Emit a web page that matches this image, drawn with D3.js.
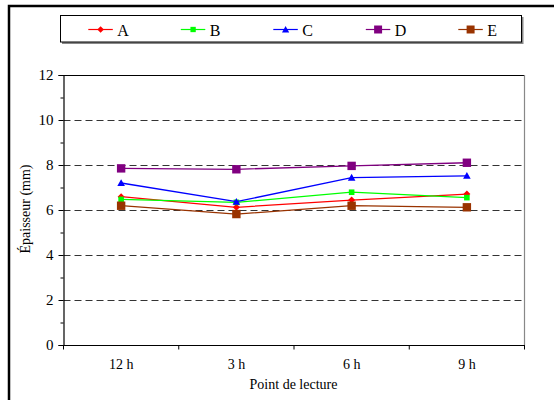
<!DOCTYPE html>
<html><head><meta charset="utf-8">
<script src="https://cdn.jsdelivr.net/npm/d3@7"></script>
<style>html,body{margin:0;padding:0;background:#fff;}svg{display:block;}
svg text{font-family:"Liberation Serif","Times New Roman",Tinos,"DejaVu Serif",serif;}</style>
</head><body>
<script>
const categories = ["12 h", "3 h", "6 h", "9 h"];
const seriesNames = ["A", "B", "C", "D", "E"];
const seriesA = [6.59, 6.12, 6.44, 6.71];
const seriesB = [6.47, 6.34, 6.79, 6.55];
const seriesC = [7.20, 6.37, 7.44, 7.52];
const seriesD = [7.85, 7.81, 7.96, 8.10];
const seriesE = [6.19, 5.82, 6.19, 6.12];
const yTicks = [0, 2, 4, 6, 8, 10, 12];
const yMinorTicks = [1, 3, 5, 7, 9, 11];
const yTitle = "Épaisseur (mm)";
const xTitle = "Point de lecture";

const colors = {A: "#FF0000", B: "#00FF00", C: "#0000FF", D: "#800080", E: "#993300"};
const shapes = {A: "diamond", B: "smallsquare", C: "triangle", D: "square", E: "square"};
const data = {A: seriesA, B: seriesB, C: seriesC, D: seriesD, E: seriesE};

const W = 554, H = 400;
const svg = d3.select("body").append("svg").attr("width", W).attr("height", H);

// outer frame
svg.append("rect").attr("x", 9).attr("y", 6).attr("width", 600).attr("height", 450)
  .attr("fill", "none").attr("stroke", "#000").attr("stroke-width", 2.5);

const pLeft = 63.5, pRight = 524.5, pTop = 75, pBottom = 345;
const x = d3.scaleBand().domain(categories).range([pLeft, pRight]);
const y = d3.scaleLinear().domain([0, 12]).range([pBottom, pTop]);

// gridlines
svg.append("g").selectAll("line").data(yTicks.filter(t => t > 0 && t < 12)).join("line")
  .attr("x1", pLeft).attr("x2", pRight).attr("y1", d => Math.round(y(d)) + 0.5).attr("y2", d => Math.round(y(d)) + 0.5)
  .attr("stroke", "#333").attr("stroke-width", 1).attr("stroke-dasharray", "7,4");

// plot frame top/right
svg.append("line").attr("x1", pLeft).attr("x2", pRight).attr("y1", pTop + 0.5).attr("y2", pTop + 0.5)
  .attr("stroke", "#000").attr("stroke-width", 1);
svg.append("line").attr("x1", pRight).attr("x2", pRight).attr("y1", pTop).attr("y2", pBottom)
  .attr("stroke", "#888").attr("stroke-width", 1.2);

// y axis
const yAxis = d3.axisLeft(y).tickValues(yTicks).tickSize(5).tickPadding(5).tickFormat(d3.format("d"));
const gy = svg.append("g").attr("transform", `translate(${pLeft},0)`).call(yAxis).attr("font-family", null);
gy.select(".domain").attr("stroke", "#000").attr("stroke-width", 1.2);
gy.selectAll(".tick line").attr("stroke", "#000");
gy.selectAll("text").attr("font-size", 15).attr("fill", "#000");
const yMinor = d3.axisLeft(y).tickValues(yMinorTicks).tickSize(3).tickFormat("");
const gym = svg.append("g").attr("transform", `translate(${pLeft},0)`).call(yMinor);
gym.select(".domain").remove();
gym.selectAll(".tick line").attr("stroke", "#000");

// x axis
const xAxis = d3.axisBottom(x).tickSize(0).tickPadding(14);
const gx = svg.append("g").attr("transform", `translate(0,${pBottom})`).call(xAxis).attr("font-family", null);
gx.select(".domain").attr("stroke", "#000").attr("stroke-width", 1.2);
gx.selectAll("text").attr("font-size", 14).attr("fill", "#000");
// band boundary ticks
const bounds = categories.map(c => x(c)).concat([pRight]);
svg.append("g").selectAll("line").data(bounds).join("line")
  .attr("x1", d => d).attr("x2", d => d).attr("y1", pBottom).attr("y2", pBottom + 4.5)
  .attr("stroke", "#000").attr("stroke-width", 1);

// titles
svg.append("text").attr("x", (pLeft + pRight) / 2 - 0.5).attr("y", 389)
  .attr("text-anchor", "middle").attr("font-size", 14).text(xTitle);
svg.append("text").attr("transform", `translate(30,209) rotate(-90)`)
  .attr("text-anchor", "middle").attr("font-size", 14).text(yTitle);

function marker(g, shape, cx, cy, color, scale) {
  const s = scale || 1;
  if (shape === "diamond") {
    const r = 3.5 * s;
    g.append("path").attr("d", `M${cx},${cy - r}L${cx + r},${cy}L${cx},${cy + r}L${cx - r},${cy}Z`).attr("fill", color);
  } else if (shape === "smallsquare") {
    const r = 2.8 * s;
    g.append("rect").attr("x", cx - r).attr("y", cy - r).attr("width", 2 * r).attr("height", 2 * r).attr("fill", color);
  } else if (shape === "triangle") {
    const r = 3.8 * s;
    g.append("path").attr("d", `M${cx},${cy - r}L${cx + r},${cy + r * 0.8}L${cx - r},${cy + r * 0.8}Z`).attr("fill", color);
  } else {
    const r = 4.2 * s;
    g.append("rect").attr("x", cx - r).attr("y", cy - r).attr("width", 2 * r).attr("height", 2 * r).attr("fill", color);
  }
}

// series
const line = d3.line().x((d, i) => x(categories[i]) + x.bandwidth() / 2).y(d => y(d));
seriesNames.forEach(name => {
  const g = svg.append("g");
  g.append("path").datum(data[name]).attr("d", line).attr("fill", "none")
    .attr("stroke", colors[name]).attr("stroke-width", 1.3);
  data[name].forEach((v, i) => marker(g, shapes[name], x(categories[i]) + x.bandwidth() / 2, y(v), colors[name]));
});

// legend
const lg = svg.append("g");
lg.append("rect").attr("x", 62).attr("y", 17).attr("width", 461.5).attr("height", 27).attr("fill", "#888");
lg.append("rect").attr("x", 60.5).attr("y", 15.5).attr("width", 461).attr("height", 26.5)
  .attr("fill", "#fff").attr("stroke", "#000").attr("stroke-width", 1);
seriesNames.forEach((name, i) => {
  const x0 = 88.3 + i * 92.5;
  const cy = 29.5;
  lg.append("line").attr("x1", x0).attr("x2", x0 + 24.5).attr("y1", cy).attr("y2", cy)
    .attr("stroke", colors[name]).attr("stroke-width", 1.2);
  marker(lg, shapes[name], x0 + 12.3, cy, colors[name], 0.95);
  lg.append("text").attr("x", x0 + 29).attr("y", cy + 6).attr("font-size", 16).text(name);
});
</script>
</body></html>
